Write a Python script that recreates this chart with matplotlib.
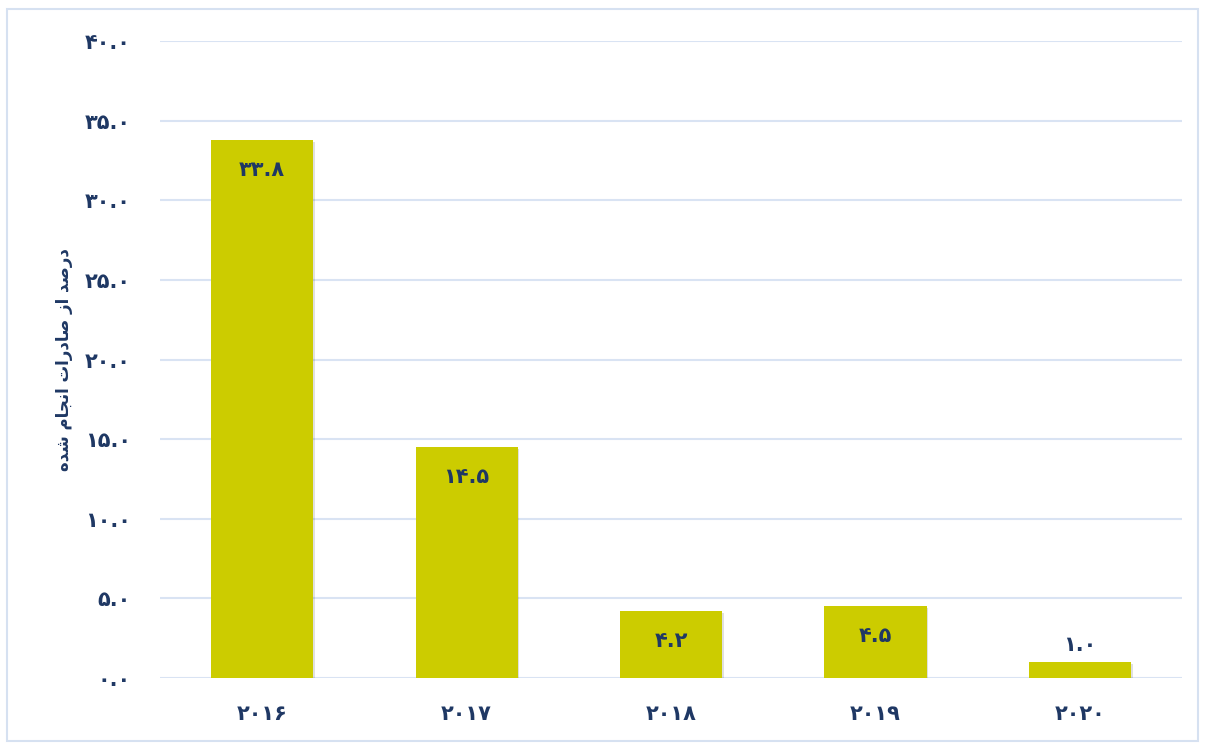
import matplotlib
matplotlib.use('Agg')
import matplotlib.pyplot as plt
from matplotlib.patches import Rectangle

# data
years = ['2016', '2017', '2018', '2019', '2020']
values = [33.8, 14.5, 4.2, 4.5, 1.0]
yticks = [0, 5, 10, 15, 20, 25, 30, 35, 40]
ylabel = 'درصد از صادرات انجام شده'

bar_color = '#CCCC00'
text_color = '#1F3864'
grid_color = '#D9E3F3'

FA_DIGITS = str.maketrans('0123456789', '۰۱۲۳۴۵۶۷۸۹')

def fa(s):
    return s.translate(FA_DIGITS)

# presentation forms: isolated, final, initial, medial (right-joining letters have only 2)
FORMS = {
    'ا': ('\uFE8D', '\uFE8E'),
    'د': ('\uFEA9', '\uFEAA'),
    'ر': ('\uFEAD', '\uFEAE'),
    'ز': ('\uFEAF', '\uFEB0'),
    'ت': ('\uFE95', '\uFE96', '\uFE97', '\uFE98'),
    'ج': ('\uFE9D', '\uFE9E', '\uFE9F', '\uFEA0'),
    'ش': ('\uFEB5', '\uFEB6', '\uFEB7', '\uFEB8'),
    'ص': ('\uFEB9', '\uFEBA', '\uFEBB', '\uFEBC'),
    'م': ('\uFEE1', '\uFEE2', '\uFEE3', '\uFEE4'),
    'ن': ('\uFEE5', '\uFEE6', '\uFEE7', '\uFEE8'),
    'ه': ('\uFEE9', '\uFEEA', '\uFEEB', '\uFEEC'),
}

def shape(text):
    # no text shaping in matplotlib, so join letters by hand and reverse for display
    out = []
    for word in text.split(' '):
        glyphs = []
        for i, ch in enumerate(word):
            prev_joins = i > 0 and len(FORMS[word[i - 1]]) == 4
            next_exists = i < len(word) - 1
            forms = FORMS[ch]
            if len(forms) == 4 and next_exists:
                glyphs.append(forms[3] if prev_joins else forms[2])
            else:
                glyphs.append(forms[1] if prev_joins else forms[0])
        out.append(''.join(glyphs))
    return ' '.join(out)[::-1]

plt.rcParams['font.family'] = ['DejaVu Sans']

fig = plt.figure(figsize=(12.05, 7.43), dpi=100)
ax = fig.add_axes([0.1328, 0.0875, 0.8482, 0.8573])

# thin frame around the whole chart
fig.patches.append(Rectangle((0.006, 0.003), 0.988, 0.985, transform=fig.transFigure,
                             fill=False, edgecolor='#D6E1F1', linewidth=1.5))

x = list(range(len(years)))
# soft shadow under the bars
ax.bar([i + 0.008 for i in x], [v + 0.0 for v in values], width=0.5, bottom=-0.12,
       color='#000000', alpha=0.12, zorder=2)
bars = ax.bar(x, values, width=0.5, color=bar_color, zorder=3)

for i, v in enumerate(values):
    if v > 3:
        ax.annotate(fa('%.1f' % v), (i, v), textcoords='offset pixels', xytext=(0, -30),
                    ha='center', va='center', fontsize=15, fontweight='bold', color=text_color, zorder=4)
    else:
        ax.annotate(fa('%.1f' % v), (i, v), textcoords='offset pixels', xytext=(0, 17),
                    ha='center', va='center', fontsize=15, fontweight='bold', color=text_color, zorder=4)

ax.set_xlim(-0.5, len(years) - 0.5)
ax.set_ylim(0, 40)
ax.set_xticks(x)
ax.set_xticklabels([fa(y) for y in years], fontsize=15, fontweight='bold', color=text_color)
ax.set_yticks(yticks)
ax.set_yticklabels([fa('%.1f' % t) for t in yticks], fontsize=15, fontweight='bold', color=text_color)
ax.tick_params(axis='x', length=0, pad=19)
ax.tick_params(axis='y', length=0, pad=21)

ax.yaxis.grid(True, color=grid_color, linewidth=1.5, zorder=0)
for s in ax.spines.values():
    s.set_visible(False)

ax.set_ylabel(shape(ylabel), fontsize=12, fontweight='bold', color=text_color)
ax.yaxis.set_label_coords(-0.085, 0.50)

fig.savefig('out.png', dpi=100)
